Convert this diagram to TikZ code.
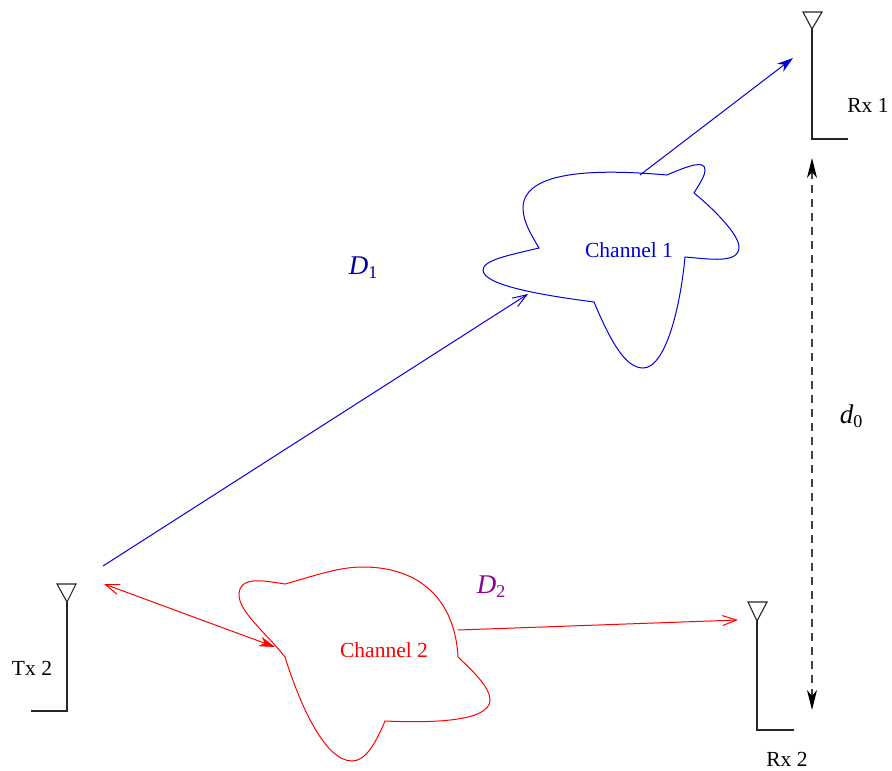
\documentclass[tikz,border=0pt]{standalone}
\usepackage{fontspec}
\setmainfont{Liberation Serif}
\usetikzlibrary{arrows.meta}
\definecolor{chanblue}{RGB}{0,0,220}
\definecolor{chanred}{RGB}{255,0,0}
\definecolor{labelblue}{RGB}{0,0,160}
\definecolor{labelpurple}{RGB}{140,0,150}
\newcommand{\subsym}[2]{{\itshape #1}\raisebox{-4pt}{\fontsize{18}{18}\selectfont #2}}

\begin{document}
\begin{tikzpicture}[
    x=1pt, y=-1pt,
    lbl/.style={font=\fontsize{21.5}{23}\selectfont, inner sep=0pt},
    sym/.style={font=\fontsize{27}{29}\selectfont, inner sep=0pt},
    ant/.style={draw=black!85, line width=1.1pt},
    chan/.style={line width=1pt},
    open/.style={-{Straight Barb[length=14pt, width=10pt]}, line width=1pt},
    solid arrow/.style={-{Stealth[length=16pt, width=10pt, inset=5pt]}, line width=1pt}
]
\useasboundingbox (0,0) rectangle (892,771);

% antennas
\coordinate (rxa) at (812,29);
\coordinate (rxb) at (757,621);
\coordinate (txb) at (67,602);
\draw[ant] (803,12) -- (822,12) -- (rxa) -- cycle;
\draw[ant] (rxa) -- (812,139) -- (848,139);
\draw[ant] (748,602) -- (767,602) -- (rxb) -- cycle;
\draw[ant] (rxb) -- (757,730) -- (794,730);
\draw[ant] (57,584) -- (76,584) -- (txb) -- cycle;
\draw[ant] (txb) -- (67,711) -- (31,711);

% channel clouds
\draw[chan, chanblue] (667,175) .. controls (620,171) and (523,165) .. (523,208)
    .. controls (523,222) and (532,236) .. (539,248)
    .. controls (510,255) and (483,260) .. (483,270)
    .. controls (483,285) and (540,295) .. (594,302)
    .. controls (610,340) and (625,368) .. (643,368)
    .. controls (665,368) and (680,310) .. (685,257)
    .. controls (710,259) and (739,264) .. (739,247)
    .. controls (739,235) and (715,210) .. (694,193)
    .. controls (702,180) and (705,175) .. (705,170)
    .. controls (705,160) and (690,165) .. cycle;
\draw[chan, chanred] (285,584) .. controls (320,574) and (340,567) .. (363,567)
    .. controls (420,567) and (455,600) .. (458,657)
    .. controls (475,673) and (490,688) .. (490,700)
    .. controls (490,722) and (430,723) .. (385,721)
    .. controls (375,745) and (365,761) .. (352,761)
    .. controls (325,761) and (300,705) .. (285,657)
    .. controls (268,635) and (239,612) .. (239,595)
    .. controls (239,575) and (265,581) .. cycle;

% labels
\node[lbl] (rxonelbl) at (868,105) {Rx 1};
\node[lbl] (rxtwolbl) at (787,759) {Rx 2};
\node[lbl] (txtwolbl) at (32,668) {Tx 2};
\node[lbl, text=chanblue] (chanone) at (629,250) {Channel 1};
\node[lbl, text=chanred] (chantwo) at (384,650) {Channel 2};
\node[sym, text=labelblue] (done) at (363,268) {\subsym{D}{1}};
\node[sym, text=labelpurple] (dtwo) at (491,587) {\subsym{D}{2}};
\node[sym] (dzero) at (851,416) {\subsym{d}{0}};

% paths
\coordinate (txout) at (103,566);
\coordinate (chanonein) at (528,294);
\coordinate (chanoneout) at (640,175);
\coordinate (rxonein) at (793,58);
\coordinate (txin) at (104,584);
\coordinate (chantwoin) at (275,647);
\coordinate (chantwoout) at (458,630);
\coordinate (rxtwoin) at (738,620);
\coordinate (sepa) at (812,158);
\coordinate (sepb) at (812,710);
\draw[open, chanblue] (txout) -- (chanonein);
\draw[solid arrow, chanblue] (chanoneout) -- (rxonein);
\draw[line width=1pt, chanred, {Straight Barb[length=14pt, width=10pt]}-{Stealth[length=16pt, width=10pt, inset=5pt]}] (txin) -- (chantwoin);
\draw[open, chanred] (chantwoout) -- (rxtwoin);
\draw[black!75, line width=1.1pt, dash pattern=on 8pt off 6pt, {Stealth[length=20pt, width=10pt, inset=6pt, black]}-{Stealth[length=20pt, width=10pt, inset=6pt, black]}] (sepa) -- (sepb);
\end{tikzpicture}
\end{document}
